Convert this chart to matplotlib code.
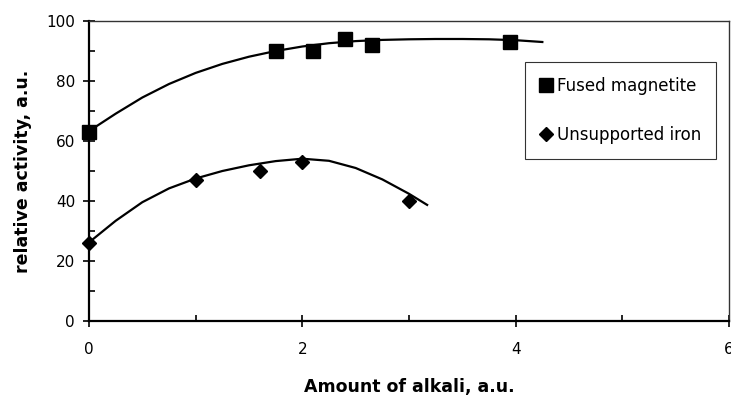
import numpy as np
import matplotlib
matplotlib.use("Agg")
import matplotlib.pyplot as plt
from matplotlib.ticker import MultipleLocator

plt.rcParams['font.family'] = ['DejaVu Sans']

# Data points
fm_x = [0.0, 1.75, 2.1, 2.4, 2.65, 3.95]
fm_y = [63, 90, 90, 94, 92, 93]
ui_x = [0.0, 1.0, 1.6, 2.0, 3.0]
ui_y = [26, 47, 50, 53, 40]

# Trend curves
fm_curve_x = [0.0, 0.25, 0.5, 0.75, 1.0, 1.25, 1.5, 1.75, 2.0, 2.25, 2.5,
              2.75, 3.0, 3.25, 3.5, 3.75, 4.0, 4.25]
fm_curve_y = [63.3, 69.1, 74.5, 79.0, 82.7, 85.7, 88.1, 90.0, 91.5, 92.6,
              93.3, 93.7, 93.9, 94.0, 94.0, 93.9, 93.6, 93.0]
ui_curve_x = [0.0, 0.25, 0.5, 0.75, 1.0, 1.25, 1.5, 1.75, 2.0, 2.25, 2.5,
              2.75, 3.0, 3.17]
ui_curve_y = [26.2, 33.4, 39.6, 44.2, 47.5, 50.0, 51.9, 53.3, 54.1, 53.4,
              51.0, 47.2, 42.4, 38.7]

x_ticks = [0, 2, 4, 6]
y_ticks = [0, 20, 40, 60, 80, 100]

fig = plt.figure(figsize=(7.31, 3.98), dpi=100)
ax = fig.add_axes([89/731, 77/398, 640/731, 300/398])

ax.plot(fm_curve_x, fm_curve_y, color='black', lw=1.6, zorder=2,
        solid_joinstyle='round')
ax.plot(ui_curve_x, ui_curve_y, color='black', lw=1.6, zorder=2,
        solid_joinstyle='round')

ax.plot(fm_x, fm_y, linestyle='none', marker='s', ms=10, color='black',
        label='Fused magnetite', zorder=3, clip_on=False)
ax.plot(ui_x, ui_y, linestyle='none', marker='D', ms=7.2, color='black',
        label='Unsupported iron', zorder=3, clip_on=False)

ax.set_xlim(0, 6)
ax.set_ylim(0, 100)
ax.set_xticks(x_ticks)
ax.set_yticks(y_ticks)
ax.xaxis.set_minor_locator(MultipleLocator(1))
ax.yaxis.set_minor_locator(MultipleLocator(10))
ax.tick_params(which='major', direction='inout', length=8, width=1.2,
               labelsize=11)
ax.tick_params(which='minor', direction='in', length=4, width=1.2)
ax.tick_params(axis='x', which='major', pad=11)
ax.tick_params(axis='y', which='major', pad=6)

for s in ['left', 'bottom']:
    ax.spines[s].set_linewidth(1.6)
    ax.spines[s].set_color('black')
for s in ['top', 'right']:
    ax.spines[s].set_linewidth(1.0)
    ax.spines[s].set_color('#333333')

ax.set_xlabel('Amount of alkali, a.u.', fontsize=12.5, fontweight='bold',
              labelpad=15)
ax.set_ylabel('relative activity, a.u.', fontsize=12.5, fontweight='bold',
              labelpad=10)

leg = ax.legend(loc='upper left', bbox_to_anchor=(525/731, 1 - 62/398),
                bbox_transform=fig.transFigure, fontsize=12, frameon=True,
                fancybox=False, edgecolor='black', handlelength=0.7,
                handletextpad=0.3, labelspacing=1.85, borderpad=0.9,
                borderaxespad=0)
leg.get_frame().set_linewidth(0.8)

fig.savefig('out.png', dpi=100)
